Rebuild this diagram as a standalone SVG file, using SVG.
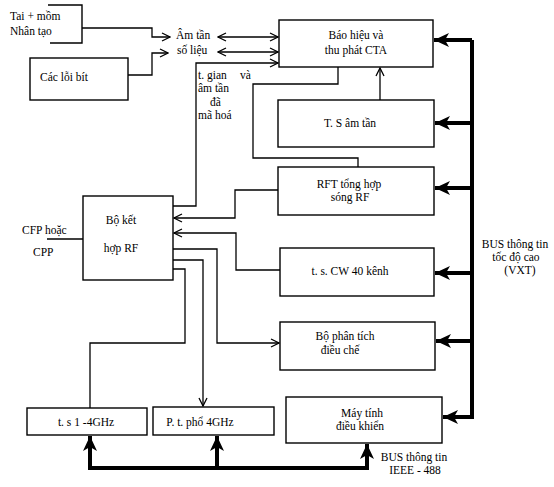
<svg xmlns="http://www.w3.org/2000/svg" width="554" height="487" viewBox="0 0 554 487">
<defs>
<style>
text{font-family:"Liberation Serif","DejaVu Serif",serif;font-size:11.5px;fill:#000}
.m{text-anchor:middle}
.box{fill:none;stroke:#000;stroke-width:1.4}
.w{fill:none;stroke:#000;stroke-width:1.3}
.bus{fill:none;stroke:#000;stroke-width:4}
</style>
<marker id="a" markerUnits="userSpaceOnUse" markerWidth="10" markerHeight="10" refX="9" refY="5" orient="auto-start-reverse" viewBox="0 0 10 10">
<path d="M1,1 L9,5 L1,9" fill="none" stroke="#000" stroke-width="1.3"/>
</marker>
<marker id="b" markerUnits="userSpaceOnUse" markerWidth="16" markerHeight="14" refX="15" refY="7" orient="auto" viewBox="0 0 16 14">
<path d="M0,0 L15,7 L0,14 L4,7 z" fill="#000"/>
</marker>
</defs>

<g id="tai-mom">
<path class="box" d="M48,5 H82 V43 H50"/>
<text x="10" y="20">Tai + mồm</text>
<text x="10" y="35">Nhân tạo</text>
</g>
<g id="cac-loi-bit">
<rect class="box" x="30" y="58" width="98" height="42"/>
<text x="40" y="81">Các lỗi bít</text>
</g>
<g id="am-tan-so-lieu">
<text x="176" y="39">Âm tần</text>
<text x="177" y="54">số liệu</text>
</g>
<g id="bao-hieu">
<rect class="box" x="279" y="20" width="154" height="47"/>
<text class="m" x="356" y="39">Báo hiệu và</text>
<text class="m" x="356" y="54">thu phát CTA</text>
</g>
<g id="t-s-am-tan">
<rect class="box" x="278" y="100" width="156" height="47"/>
<text class="m" x="350" y="127">T. S âm tần</text>
</g>
<g id="rft">
<rect class="box" x="278" y="167" width="156" height="48"/>
<text class="m" x="349" y="188">RFT tổng hợp</text>
<text class="m" x="350" y="201">sóng RF</text>
</g>
<g id="cw40">
<rect class="box" x="280" y="248" width="154" height="48"/>
<text class="m" x="350" y="275">t. s. CW 40 kênh</text>
</g>
<g id="phan-tich">
<rect class="box" x="280" y="322" width="155" height="48"/>
<text class="m" x="345" y="340">Bộ phân tích</text>
<text class="m" x="340" y="354">điều chế</text>
</g>
<g id="may-tinh">
<rect class="box" x="286" y="397" width="156" height="46"/>
<text class="m" x="362" y="417">Máy tính</text>
<text class="m" x="360" y="430">điều khiển</text>
</g>
<g id="ts14">
<rect class="box" x="27" y="408" width="120" height="27"/>
<text class="m" x="86" y="426">t. s 1 -4GHz</text>
</g>
<g id="ptpho">
<rect class="box" x="153" y="407" width="121" height="28"/>
<text class="m" x="200" y="426">P. t. phổ 4GHz</text>
</g>
<g id="bo-ket-hop">
<rect class="box" x="83" y="196" width="90" height="84"/>
<text class="m" x="121" y="224">Bộ kết</text>
<text class="m" x="121" y="252">hợp RF</text>
</g>
<g id="cfp">
<text x="22" y="234">CFP hoặc</text>
<text x="33" y="256">CPP</text>
</g>
<g id="bus-labels">
<text class="m" x="515" y="248">BUS thông tin</text>
<text class="m" x="516" y="261">tốc độ cao</text>
<text class="m" x="520" y="274">(VXT)</text>
<text class="m" x="414" y="461">BUS thông tin</text>
<text class="m" x="415" y="474">IEEE - 488</text>
</g>
<g id="tgian">
<text x="198" y="79">t. gian</text>
<text x="240" y="79">và</text>
<text x="198" y="92">âm tần</text>
<text x="210" y="106">đã</text>
<text x="198" y="119">mã hoá</text>
</g>

<g id="connectors">
<path class="w" d="M82,28 H152 V37 H170" marker-end="url(#a)"/>
<path class="w" d="M128,75 H152 V53 H168" marker-end="url(#a)"/>
<path class="w" d="M218,37 H278" marker-start="url(#a)" marker-end="url(#a)"/>
<path class="w" d="M218,52 H278" marker-start="url(#a)" marker-end="url(#a)"/>
<path class="w" d="M173,206 H196 V63 H278" marker-end="url(#a)"/>
<path class="w" d="M358,167 V158 H253 V84 H338 V67"/>
<path class="w" d="M380,100 V68" marker-end="url(#a)"/>
<path class="w" d="M278,190 H235 V218 H174" marker-end="url(#a)"/>
<path class="w" d="M280,270 H236 V233 H174" marker-end="url(#a)"/>
<path class="w" d="M173,249 H217 V343 H279" marker-end="url(#a)"/>
<path class="w" d="M173,260 H203 V406" marker-end="url(#a)"/>
<path class="w" d="M173,269 H185 V343 H90 V408"/>
<path class="w" d="M47,239 H83"/>
<path class="bus" d="M472,40 V417"/>
<path class="bus" d="M472,40 H434" marker-end="url(#b)"/>
<path class="bus" d="M472,123 H435" marker-end="url(#b)"/>
<path class="bus" d="M472,188 H435" marker-end="url(#b)"/>
<path class="bus" d="M472,273 H435" marker-end="url(#b)"/>
<path class="bus" d="M472,341 H436" marker-end="url(#b)"/>
<path class="bus" d="M474,417 H443" marker-end="url(#b)"/>
<path class="bus" d="M88,468 H369"/>
<path class="bus" d="M90,470 V436" marker-end="url(#b)"/>
<path class="bus" d="M217,468 V436" marker-end="url(#b)"/>
<path class="bus" d="M367,470 V444" marker-end="url(#b)"/>
</g>
</svg>
